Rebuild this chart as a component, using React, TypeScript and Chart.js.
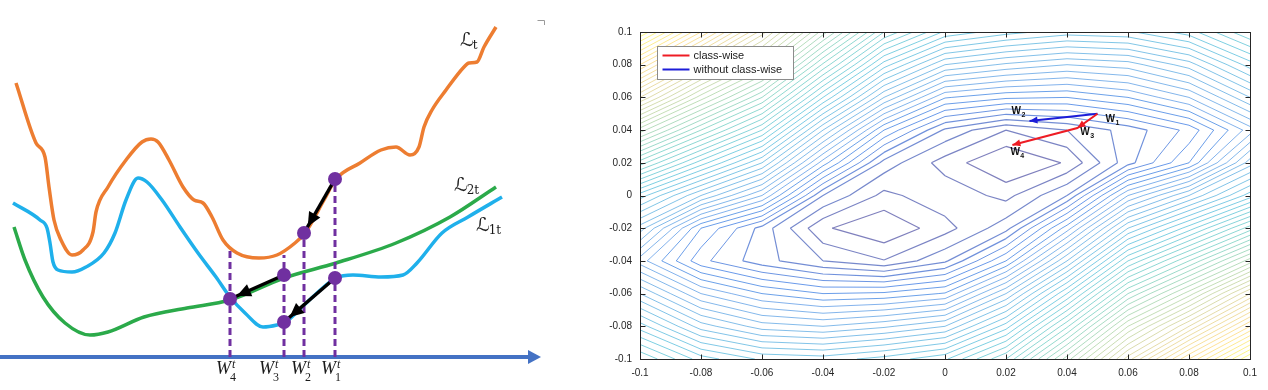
import React, { useEffect, useRef } from "react";
import { Chart, registerables } from "chart.js";

Chart.register(...registerables);

// ================= Left panel: schematic loss curves (arbitrary units) =================
// x = weight (W), y = loss
const LT_X = [16, 36, 45, 49, 54, 61, 72, 83, 93, 96, 108, 126, 142, 151, 158, 169, 183, 194, 203, 212, 223, 237, 259, 277, 295, 305, 324, 336, 360, 381, 396, 410, 419, 424, 432, 446, 464, 469, 477, 484, 496];
const LT_Y = [307, 247, 233, 203, 170, 150, 135, 140, 158, 178, 203, 230, 248, 251, 248, 230, 203, 190, 187, 173, 150, 137, 132, 135, 147, 157, 190, 211, 227, 240, 243, 235, 243, 263, 280, 300, 323, 327, 328, 343, 363];

const L1T_X = [13, 40, 47, 50, 53, 58, 72, 86, 104, 115, 126, 138, 147, 162, 180, 198, 216, 230, 245, 263, 277, 286, 299, 317, 336, 353, 381, 403, 417, 442, 468, 502];
const L1T_Y = [187, 170, 162, 147, 128, 120, 118, 123, 137, 157, 190, 212, 208, 190, 163, 137, 113, 93, 77, 63, 65, 68, 80, 97, 112, 115, 113, 115, 127, 157, 173, 193];

const L2T_X = [14, 25, 43, 65, 90, 108, 144, 187, 230, 284, 336, 396, 450, 496];
const L2T_Y = [163, 130, 93, 67, 55, 58, 73, 82, 90, 112, 127, 147, 173, 203];

const CURVE_SUBS = ["t", "2t", "1t"];

const W_NAMES = ["1", "2", "3", "4"];
const W_POS = [335, 304, 284, 230]; // W1..W4 on the weight axis
const W_TOP = [211, 157, 135, 141]; // L_t at each W (top of the dashed drop line)

// purple markers: W1 on Lt, W2 on Lt, W1 on L1t, W3 on L2t, W3 on L1t, W4 on L1t/L2t
const DOT_X = [335, 304, 335, 284, 284, 230];
const DOT_Y = [211, 157, 112, 115, 68, 91];
const MOVES = [[0, 1], [3, 5], [2, 4]]; // update steps between markers

const AXIS_LEVEL = 33;
const AXIS_X = [0, 530];

// ================= Right panel: loss landscape contour =================
const GRID_X = [-0.1, -0.08, -0.06, -0.04, -0.02, 0, 0.02, 0.04, 0.06, 0.08, 0.1];
const GRID_Y = [0.1, 0.08, 0.06, 0.04, 0.02, 0, -0.02, -0.04, -0.06, -0.08, -0.1];
const LOSS_GRID = [
  [55, 48, 40.5, 32.5, 25, 20.8, 19.4, 18.5, 18.8, 20.5, 24],
  [48, 41, 35, 26.8, 19.5, 15, 13.8, 13, 13.5, 15.5, 19.5],
  [41, 34.5, 29, 21, 14, 9.1, 8.2, 8, 9, 11, 15],
  [33.5, 28, 23, 15, 8, 3.8, 2.0, 3.0, 4.4, 6.3, 10.5],
  [26.5, 21.5, 17, 9.5, 3.6, 1.54, 0, 1.11, 4.6, 8, 14.5],
  [19.5, 15, 11, 4, 1.7, 2.7, 1.67, 4, 11, 15, 19.5],
  [14.5, 8, 4.6, 1.15, 0.15, 1.6, 3.6, 9.5, 17, 21.5, 26.5],
  [10.5, 6.3, 4.4, 3.0, 2.05, 3.8, 8, 15, 23, 28, 33.5],
  [15, 11, 9, 8, 8.2, 9.1, 14, 21, 29, 34.5, 41],
  [19.5, 15.5, 13.5, 13, 13.8, 15, 19.5, 26.8, 35, 41, 48],
  [24, 20.5, 18.8, 18.5, 19.4, 20.8, 25, 32.5, 40.5, 48, 55],
];
const LEVELS = [1, 2, 3, 4, 5, 6, 7, 8, 9, 10, 11, 12, 13, 14, 15, 16, 17, 18, 19, 20, 21, 22, 23, 24, 25, 26, 27, 28, 29, 30, 31, 32, 33, 34, 35, 36, 37, 38, 39, 40, 41, 42, 43, 44, 45, 46, 47, 48, 49, 50, 51, 52, 53, 54, 55];
const LEVEL_MAX = 55;

const TRAJ_NAMES = ["1", "2", "3", "4"];
const TRAJ_X = [0.05, 0.0277, 0.0434, 0.0221];
const TRAJ_Y = [0.05, 0.0456, 0.0413, 0.0309];
const CLASSWISE_PATH = [0, 2, 3];
const PLAIN_PATH = [0, 1];
const SERIES_LABELS = ["class-wise", "without class-wise"];

const AXIS_TICKS = [-0.1, -0.08, -0.06, -0.04, -0.02, 0, 0.02, 0.04, 0.06, 0.08, 0.1];
const AXIS_TICK_LABELS = ["-0.1", "-0.08", "-0.06", "-0.04", "-0.02", "0", "0.02", "0.04", "0.06", "0.08", "0.1"];

// ---------------- helpers ----------------
const PARULA = [
  [0.2081, 0.1663, 0.5292],
  [0.0592, 0.3599, 0.8684],
  [0.078, 0.5041, 0.8385],
  [0.0232, 0.6407, 0.7925],
  [0.1802, 0.7178, 0.6382],
  [0.5301, 0.7498, 0.4662],
  [0.8186, 0.7327, 0.3498],
  [0.9956, 0.7862, 0.2256],
  [0.9763, 0.9831, 0.0538],
];
function parula(t: number, alpha: number) {
  const tt = Math.max(0, Math.min(1, t));
  const s = tt * (PARULA.length - 1);
  const i = Math.min(PARULA.length - 2, Math.floor(s));
  const f = s - i;
  const c = PARULA[i].map((v, k) => Math.round(255 * (v + (PARULA[i + 1][k] - v) * f)));
  return `rgba(${c[0]},${c[1]},${c[2]},${alpha})`;
}

function contourPoints(level: number) {
  const out: { x: number; y: number }[] = [];
  const gap = { x: NaN, y: NaN };
  const seg = (a: any, b: any) => {
    out.push(a, b, gap);
  };
  for (let j = 0; j < GRID_Y.length - 1; j++) {
    for (let i = 0; i < GRID_X.length - 1; i++) {
      const x0 = GRID_X[i], x1 = GRID_X[i + 1], yT = GRID_Y[j], yB = GRID_Y[j + 1];
      const tl = LOSS_GRID[j][i], tr = LOSS_GRID[j][i + 1], br = LOSS_GRID[j + 1][i + 1], bl = LOSS_GRID[j + 1][i];
      const cr = (a: number, b: number) => (a < level) !== (b < level);
      const lp = (p0: number, p1: number, a: number, b: number) => p0 + ((p1 - p0) * (level - a)) / (b - a);
      const top = cr(tl, tr) ? { x: lp(x0, x1, tl, tr), y: yT } : null;
      const right = cr(tr, br) ? { x: x1, y: lp(yT, yB, tr, br) } : null;
      const bottom = cr(bl, br) ? { x: lp(x0, x1, bl, br), y: yB } : null;
      const left = cr(tl, bl) ? { x: x0, y: lp(yT, yB, tl, bl) } : null;
      const e = [top, right, bottom, left].filter(Boolean);
      if (e.length === 2) seg(e[0], e[1]);
      else if (e.length === 4) {
        const c = (tl + tr + br + bl) / 4;
        if ((c < level) === (tl < level)) {
          seg(top, right);
          seg(bottom, left);
        } else {
          seg(top, left);
          seg(right, bottom);
        }
      }
    }
  }
  return out;
}

function drawHead(ctx: CanvasRenderingContext2D, ax: number, ay: number, bx: number, by: number, extend: number, len: number, half: number, color: string) {
  const dx = bx - ax, dy = by - ay;
  const L = Math.hypot(dx, dy) || 1;
  const ux = dx / L, uy = dy / L;
  const tx = bx + ux * extend, ty = by + uy * extend;
  const cx = tx - ux * len, cy = ty - uy * len;
  ctx.beginPath();
  ctx.moveTo(tx, ty);
  ctx.lineTo(cx - uy * half, cy + ux * half);
  ctx.lineTo(cx + uy * half, cy - ux * half);
  ctx.closePath();
  ctx.fillStyle = color;
  ctx.fill();
}

const pts = (xs: number[], ys: number[]) => xs.map((x, i) => ({ x, y: ys[i] }));

// ---------------- left chart ----------------
const PURPLE = "#7030A0";
const W_LABEL_DX = [-14, -13, -25, -14];

function leftConfig(): any {
  const datasets: any[] = [];
  datasets.push({
    label: "W",
    data: pts(DOT_X, DOT_Y),
    showLine: false,
    pointRadius: 7,
    pointHoverRadius: 7,
    pointBackgroundColor: PURPLE,
    pointBorderWidth: 0,
    order: 0,
  });
  const moveIdx: number[] = [];
  MOVES.forEach(([a, b]) => {
    moveIdx.push(datasets.length);
    datasets.push({
      label: "step",
      data: [
        { x: DOT_X[a], y: DOT_Y[a] },
        { x: DOT_X[b], y: DOT_Y[b] },
      ],
      showLine: true,
      borderColor: "#000",
      borderWidth: 3.5,
      pointRadius: 0,
      order: 1,
    });
  });
  W_POS.forEach((w, i) => {
    datasets.push({
      label: "drop",
      data: [
        { x: w, y: AXIS_LEVEL },
        { x: w, y: W_TOP[i] },
      ],
      showLine: true,
      borderColor: PURPLE,
      borderWidth: 3,
      borderDash: [7, 4],
      pointRadius: 0,
      order: 2,
    });
  });
  const curves = [
    { xs: LT_X, ys: LT_Y, color: "#ED7D31" },
    { xs: L2T_X, ys: L2T_Y, color: "#2BAA4A" },
    { xs: L1T_X, ys: L1T_Y, color: "#1FB0EB" },
  ];
  curves.forEach((c, k) => {
    datasets.push({
      label: "L" + CURVE_SUBS[k],
      data: pts(c.xs, c.ys),
      showLine: true,
      borderColor: c.color,
      borderWidth: 3.5,
      cubicInterpolationMode: "monotone",
      pointRadius: 0,
      order: 3,
    });
  });
  const axisIdx = datasets.length;
  datasets.push({
    label: "axis",
    data: AXIS_X.map((x) => ({ x, y: AXIS_LEVEL })),
    showLine: true,
    borderColor: "#4472C4",
    borderWidth: 4,
    pointRadius: 0,
    order: 4,
  });

  const decor = {
    id: "leftDecor",
    afterDatasetsDraw(chart: any) {
      const { ctx, scales } = chart;
      const X = (v: number) => scales.x.getPixelForValue(v);
      const Y = (v: number) => scales.y.getPixelForValue(v);
      ctx.save();
      const am = chart.getDatasetMeta(axisIdx).data;
      drawHead(ctx, am[0].x, am[0].y, am[1].x, am[1].y, 11, 13, 7, "#4472C4");
      moveIdx.forEach((di) => {
        const m = chart.getDatasetMeta(di).data;
        drawHead(ctx, m[0].x, m[0].y, m[1].x, m[1].y, -7.5, 14, 6.5, "#000");
      });
      const labelOff = [
        [-36, 19],
        [-42, 4],
        [-26, 34],
      ];
      const ends = [
        [LT_X[LT_X.length - 1], LT_Y[LT_Y.length - 1]],
        [L2T_X[L2T_X.length - 1], L2T_Y[L2T_Y.length - 1]],
        [L1T_X[L1T_X.length - 1], L1T_Y[L1T_Y.length - 1]],
      ];
      ctx.fillStyle = "#1a1a1a";
      ctx.textBaseline = "alphabetic";
      ctx.textAlign = "left";
      ends.forEach((e, k) => {
        const lx = X(e[0]) + labelOff[k][0];
        const by = Y(e[1]) + labelOff[k][1];
        ctx.font = '19px "DejaVu Serif", "DejaVu Sans", serif';
        ctx.fillText("\u2112", lx, by);
        const w = ctx.measureText("\u2112").width;
        ctx.font = '12px "DejaVu Serif", serif';
        ctx.fillText(CURVE_SUBS[k], lx + w - 1, by + 3);
      });
      const base = Y(AXIS_LEVEL) + 17;
      W_POS.forEach((w, i) => {
        const lx = X(w) + W_LABEL_DX[i];
        ctx.font = 'italic 18px "Liberation Serif", serif';
        ctx.fillText("W", lx, base);
        const ww = ctx.measureText("W").width;
        ctx.font = 'italic 12px "Liberation Serif", serif';
        ctx.fillText("t", lx + ww + 1, base - 6);
        ctx.font = '12px "Liberation Serif", serif';
        ctx.fillText(W_NAMES[i], lx + ww - 1, base + 7);
      });
      ctx.strokeStyle = "#9a9a9a";
      ctx.lineWidth = 1;
      ctx.beginPath();
      ctx.moveTo(537.5, 20.5);
      ctx.lineTo(544.5, 20.5);
      ctx.lineTo(544.5, 25);
      ctx.stroke();
      ctx.restore();
    },
  };

  return {
    type: "scatter",
    data: { datasets },
    options: {
      animation: false,
      responsive: false,
      events: [],
      layout: { padding: 0, autoPadding: false },
      plugins: { legend: { display: false }, tooltip: { enabled: false } },
      scales: {
        x: { type: "linear", min: 0, max: 560, display: false },
        y: { type: "linear", min: 0, max: 390, display: false },
      },
    },
    plugins: [decor],
  };
}

// ---------------- right chart ----------------
const RED = "#ee1c24";
const BLUE = "#1d1dd8";

function rightConfig(): any {
  const datasets: any[] = [];
  const redIdx = datasets.length;
  datasets.push({
    label: SERIES_LABELS[0],
    data: CLASSWISE_PATH.map((k) => ({ x: TRAJ_X[k], y: TRAJ_Y[k] })),
    showLine: true,
    borderColor: RED,
    borderWidth: 2,
    pointRadius: 0,
    order: 0,
  });
  const blueIdx = datasets.length;
  datasets.push({
    label: SERIES_LABELS[1],
    data: PLAIN_PATH.map((k) => ({ x: TRAJ_X[k], y: TRAJ_Y[k] })),
    showLine: true,
    borderColor: BLUE,
    borderWidth: 2,
    pointRadius: 0,
    order: 0,
  });
  LEVELS.forEach((lv) => {
    datasets.push({
      label: "",
      data: contourPoints(lv),
      showLine: true,
      spanGaps: false,
      borderColor: parula(lv / LEVEL_MAX, lv < 10 ? 0.62 : 0.52),
      borderWidth: lv < 6 ? 1.2 : 1,
      pointRadius: 0,
      order: 2,
    });
  });

  const decor = {
    id: "matlabDecor",
    afterDatasetsDraw(chart: any) {
      const { ctx, chartArea: ca, scales } = chart;
      const xs = scales.x, ys = scales.y;
      ctx.save();
      const L = Math.round(ca.left) + 0.5, T = Math.round(ca.top) + 0.5;
      const R = Math.round(ca.right) + 0.5, B = Math.round(ca.bottom) + 0.5;
      ctx.strokeStyle = "#262626";
      ctx.lineWidth = 1;
      ctx.strokeRect(L, T, R - L, B - T);
      ctx.beginPath();
      AXIS_TICKS.forEach((v) => {
        const px = Math.round(xs.getPixelForValue(v)) + 0.5;
        ctx.moveTo(px, B);
        ctx.lineTo(px, B - 5);
        ctx.moveTo(px, T);
        ctx.lineTo(px, T + 5);
        const py = Math.round(ys.getPixelForValue(v)) + 0.5;
        ctx.moveTo(L, py);
        ctx.lineTo(L + 5, py);
        ctx.moveTo(R, py);
        ctx.lineTo(R - 5, py);
      });
      ctx.stroke();
      const rm = chart.getDatasetMeta(redIdx).data;
      for (let k = 1; k < rm.length; k++) drawHead(ctx, rm[k - 1].x, rm[k - 1].y, rm[k].x, rm[k].y, 0, 8, 3.5, RED);
      const bm = chart.getDatasetMeta(blueIdx).data;
      drawHead(ctx, bm[0].x, bm[0].y, bm[1].x, bm[1].y, 0, 8, 3.5, BLUE);
      const off = [
        [8, 8],
        [-18, -7],
        [3, 7],
        [-2, 10],
      ];
      ctx.fillStyle = "#111";
      ctx.textAlign = "left";
      ctx.textBaseline = "alphabetic";
      TRAJ_NAMES.forEach((n, i) => {
        const px = xs.getPixelForValue(TRAJ_X[i]) + off[i][0];
        const py = ys.getPixelForValue(TRAJ_Y[i]) + off[i][1];
        ctx.font = 'bold 10px "Liberation Sans", Arial, sans-serif';
        ctx.fillText("W", px, py);
        const w = ctx.measureText("W").width;
        ctx.font = 'bold 7px "Liberation Sans", Arial, sans-serif';
        ctx.fillText(n, px + w + 0.5, py + 3);
      });
      const lx = Math.round(ca.left) + 17.5, ly = Math.round(ca.top) + 14.5;
      ctx.fillStyle = "#fff";
      ctx.fillRect(lx, ly, 136, 33);
      ctx.strokeStyle = "#8c8c8c";
      ctx.lineWidth = 1;
      ctx.strokeRect(lx, ly, 136, 33);
      const entries = [
        { label: datasets[redIdx].label, color: RED, y: ly + 9 },
        { label: datasets[blueIdx].label, color: BLUE, y: ly + 23 },
      ];
      entries.forEach((e) => {
        ctx.strokeStyle = e.color;
        ctx.lineWidth = 2;
        ctx.beginPath();
        ctx.moveTo(lx + 5, e.y);
        ctx.lineTo(lx + 32, e.y);
        ctx.stroke();
        ctx.fillStyle = "#1a1a1a";
        ctx.font = '11px "Liberation Sans", Arial, sans-serif';
        ctx.textBaseline = "middle";
        ctx.fillText(e.label, lx + 36, e.y + 0.5);
      });
      ctx.restore();
    },
  };

  const tickFont = { family: '"Liberation Sans", Arial, sans-serif', size: 10 };
  return {
    type: "scatter",
    data: { datasets },
    options: {
      animation: false,
      responsive: false,
      events: [],
      layout: { padding: { top: 32, right: 18, left: 0, bottom: 0 }, autoPadding: false },
      plugins: { legend: { display: false }, tooltip: { enabled: false } },
      scales: {
        x: {
          type: "linear",
          min: -0.1,
          max: 0.1,
          grid: { display: false, drawTicks: false },
          border: { display: false },
          afterFit: (s: any) => {
            s.height = 31;
          },
          afterBuildTicks: (s: any) => {
            s.ticks = AXIS_TICKS.map((v) => ({ value: v }));
          },
          ticks: {
            autoSkip: false,
            maxRotation: 0,
            padding: 8,
            color: "#262626",
            font: tickFont,
            callback: (_v: any, i: number) => AXIS_TICK_LABELS[i],
          },
        },
        y: {
          type: "linear",
          min: -0.1,
          max: 0.1,
          grid: { display: false, drawTicks: false },
          border: { display: false },
          afterFit: (s: any) => {
            s.width = 80;
          },
          afterBuildTicks: (s: any) => {
            s.ticks = AXIS_TICKS.map((v) => ({ value: v }));
          },
          ticks: {
            autoSkip: false,
            padding: 8,
            color: "#262626",
            font: tickFont,
            callback: (_v: any, i: number) => AXIS_TICK_LABELS[i],
          },
        },
      },
    },
    plugins: [decor],
  };
}

export default function App() {
  const leftRef = useRef<HTMLCanvasElement>(null);
  const rightRef = useRef<HTMLCanvasElement>(null);
  useEffect(() => {
    document.body.style.margin = "0";
    const c1 = new Chart(leftRef.current as HTMLCanvasElement, leftConfig());
    const c2 = new Chart(rightRef.current as HTMLCanvasElement, rightConfig());
    return () => {
      c1.destroy();
      c2.destroy();
    };
  }, []);
  return (
    <div style={{ position: "relative", width: 1268, height: 390, background: "#fff", overflow: "hidden" }}>
      <canvas ref={leftRef} width={560} height={390} style={{ position: "absolute", left: 0, top: 0 }} />
      <canvas ref={rightRef} width={708} height={390} style={{ position: "absolute", left: 560, top: 0 }} />
    </div>
  );
}
